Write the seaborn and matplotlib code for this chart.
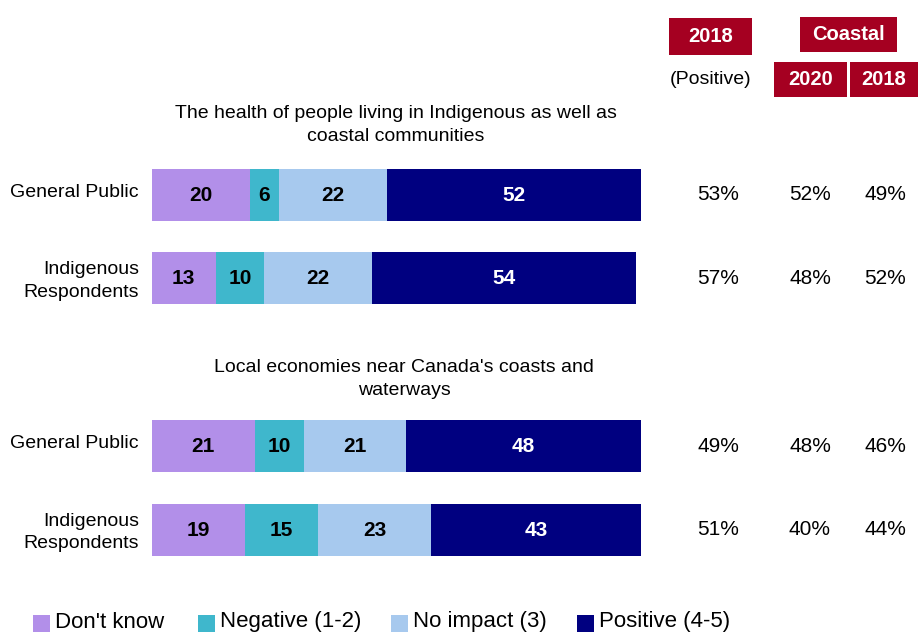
import matplotlib
matplotlib.use("Agg")
import matplotlib.pyplot as plt
import matplotlib.patches as mpatches
import numpy as np
import pandas as pd
import seaborn as sns

sns.set_theme(style="white")
plt.rcParams["font.family"] = ["Liberation Sans", "DejaVu Sans"]
plt.rcParams["text.color"] = "black"

# ---- data ----
groups = ["The health of people living in Indigenous as well as\ncoastal communities",
          "Local economies near Canada's coasts and\nwaterways"]
row_labels = ["General Public", "Indigenous\nRespondents",
              "General Public", "Indigenous\nRespondents"]
series = ["Don't know", "Negative (1-2)", "No impact (3)", "Positive (4-5)"]
dont_know = [20, 13, 21, 19]
negative = [6, 10, 10, 15]
no_impact = [22, 22, 21, 23]
positive = [52, 54, 48, 43]
pos_2018 = ["53%", "57%", "49%", "51%"]
coastal_2020 = ["52%", "48%", "48%", "40%"]
coastal_2018 = ["49%", "52%", "46%", "44%"]

colors = ["#b28fe9", "#3fb7cc", "#a7c9ee", "#000080"]
label_colors = ["black", "black", "black", "white"]
header_red = "#a50021"

W, H = 920, 637
fig = plt.figure(figsize=(W / 100, H / 100), dpi=100)

# vertical positions of the bar rows (pixel space)
row_y = [194.5, 278, 446, 529.5]
bar_h = 52

ax = fig.add_axes([152 / W, 0, 489 / W, 1])
values = np.array([dont_know, negative, no_impact, positive], dtype=float)
cum = np.cumsum(values, axis=0)

df = pd.DataFrame({"row": row_y})
min_gap = np.min(np.diff(sorted(row_y)))
# draw cumulative totals from the outermost segment inwards to form stacks
for i in range(len(series) - 1, -1, -1):
    df["val"] = cum[i]
    sns.barplot(data=df, x="val", y="row", orient="h", native_scale=True,
                color=colors[i], saturation=1, width=bar_h / min_gap,
                linewidth=0, ax=ax)

ax.set_xlim(0, 100)
ax.set_ylim(H, 0)
ax.axis("off")

# segment value labels
for r in range(len(row_y)):
    left = 0
    for i in range(len(series)):
        v = values[i][r]
        ax.text(left + v / 2, row_y[r] + 1, f"{int(v)}", ha="center", va="center",
                fontsize=15, fontweight="bold", color=label_colors[i])
        left += v


def ftxt(x, y, s, **kw):
    fig.text(x / W, 1 - y / H, s, **kw)


# group titles
ftxt(396, 125, groups[0], ha="center", va="center", fontsize=14, linespacing=1.5)
ftxt(404, 379, groups[1], ha="center", va="center", fontsize=14, linespacing=1.45)

# row labels
for r, lab in enumerate(row_labels):
    dy = 3 if "\n" in lab else -2
    ftxt(139, row_y[r] + dy, lab, ha="right", va="center", fontsize=14, linespacing=1.45)

# right-hand percentage columns
for r in range(len(row_y)):
    ftxt(718, row_y[r], pos_2018[r], ha="center", va="center", fontsize=15)
    ftxt(810, row_y[r], coastal_2020[r], ha="center", va="center", fontsize=15)
    ftxt(885, row_y[r], coastal_2018[r], ha="center", va="center", fontsize=15)


def header_box(x0, y0, x1, y1, s):
    fig.patches.append(mpatches.Rectangle((x0 / W, 1 - y1 / H), (x1 - x0) / W, (y1 - y0) / H,
                                          transform=fig.transFigure, facecolor=header_red,
                                          edgecolor="none"))
    ftxt((x0 + x1) / 2, (y0 + y1) / 2, s, ha="center", va="center", fontsize=14.5,
         fontweight="bold", color="white")


header_box(669, 18, 752, 55, "2018")
header_box(800, 17, 897, 52, "Coastal")
header_box(774, 62, 847, 97, "2020")
header_box(850, 62, 918, 97, "2018")
ftxt(711, 80, "(Positive)", ha="center", va="center", fontsize=14)

# legend
leg_x = [33, 198, 391, 577]
for i, name in enumerate(series):
    fig.patches.append(mpatches.Rectangle((leg_x[i] / W, 1 - 632 / H), 17 / W, 17 / H,
                                          transform=fig.transFigure, facecolor=colors[i],
                                          edgecolor="none"))
    ftxt(leg_x[i] + 22, 622, name, ha="left", va="center", fontsize=16)

fig.savefig("out.png", dpi=100)
